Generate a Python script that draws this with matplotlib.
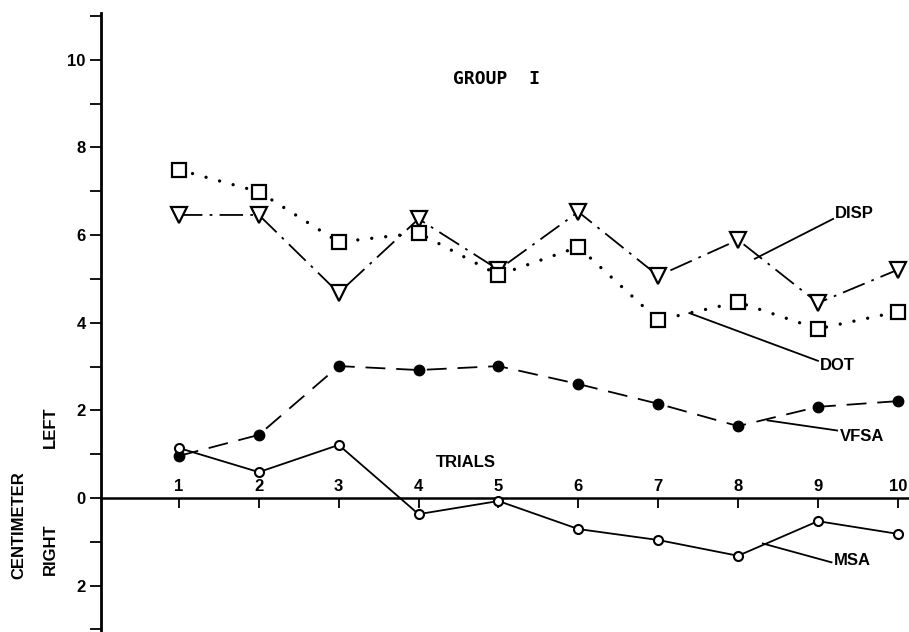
import numpy as np
import matplotlib
matplotlib.use("Agg")
import matplotlib.pyplot as plt
from matplotlib.ticker import FixedLocator, FuncFormatter

plt.rcParams["font.family"] = ["Liberation Sans", "DejaVu Sans"]
plt.rcParams["font.weight"] = "bold"

# Group I: mean displacement (cm) per trial, positive = left, negative = right
trials = np.arange(1, 11)
dot = [7.49, 6.99, 5.84, 6.05, 5.09, 5.73, 4.06, 4.47, 3.86, 4.25]
disp = [6.46, 6.46, 4.68, 6.37, 5.21, 6.53, 5.07, 5.89, 4.45, 5.21]
vfsa = [0.96, 1.44, 3.01, 2.92, 3.01, 2.60, 2.15, 1.64, 2.08, 2.21]
msa = [1.14, 0.59, 1.21, -0.37, -0.07, -0.71, -0.96, -1.32, -0.53, -0.82]

# label text, leader line start/end, text anchor (data coords)
callouts = [
    ("DISP", (8.21, 5.46), (9.19, 6.37), (9.21, 6.50)),
    ("DOT", (7.39, 4.22), (9.00, 3.13), (9.02, 3.02)),
    ("VFSA", (8.37, 1.77), (9.24, 1.54), (9.28, 1.40)),
    ("MSA", (8.31, -1.04), (9.17, -1.47), (9.20, -1.42)),
]

fig = plt.figure(figsize=(9.09, 6.32), dpi=100)
ax = fig.add_axes([101 / 909, 0, 1 - 101 / 909, 1 - 13 / 632])
ax.set_xlim(0.024, 10.14)
ax.set_ylim(-3.06, 11.07)

lw = 1.3
ax.plot(trials, dot, color="black", lw=2.4, linestyle=(0, (0.01, 4.2)),
        dash_capstyle="round", zorder=2)
ax.plot(trials, dot, linestyle="none", marker="s", ms=10, mfc="white",
        mec="black", mew=1.6, zorder=4)
ax.plot(trials, disp, color="black", lw=lw, linestyle=(0, (13, 4, 1.5, 4)),
        marker="v", ms=11.5, mfc="white", mec="black", mew=1.6, zorder=3)
ax.plot(trials, vfsa, color="black", lw=lw, linestyle=(0, (11, 6)),
        marker="o", ms=7.5, mfc="black", mec="black", zorder=3)
ax.plot(trials, msa, color="black", lw=lw, linestyle="-",
        marker="o", ms=6.5, mfc="white", mec="black", mew=1.5, zorder=3)

for name, p0, p1, tp in callouts:
    ax.plot([p0[0], p1[0]], [p0[1], p1[1]], color="black", lw=1.3, zorder=2)
    ax.text(tp[0], tp[1], name, fontsize=12, fontweight="bold",
            ha="left", va="center")

ax.text(4.97, 9.57, "GROUP  I", fontsize=13, ha="center", va="center",
        family=["DejaVu Sans Mono", "DejaVu Sans"])
ax.text(4.59, 0.82, "TRIALS", fontsize=12, fontweight="bold",
        ha="center", va="center")

# x axis sits on the zero line with labels above it
for s in ["right", "bottom"]:
    ax.spines[s].set_visible(False)
ax.spines["top"].set_position(("data", 0))
ax.spines["top"].set_linewidth(1.8)
ax.spines["left"].set_linewidth(2.0)
ax.xaxis.set_ticks_position("top")
ax.set_xticks(trials)
ax.set_xticklabels([str(t) for t in trials])
ax.tick_params(axis="x", direction="in", length=7, width=1.3, pad=3,
               labelsize=12)

yticks = list(range(-3, 12))
ax.yaxis.set_major_locator(FixedLocator(yticks))
ax.yaxis.set_major_formatter(
    FuncFormatter(lambda v, p: str(abs(int(round(v)))) if int(round(v)) % 2 == 0 and v < 11 else ""))
ax.tick_params(axis="y", direction="out", length=8, width=1.3, pad=3,
               labelsize=12)

fig.text(19 / 909, 1 - 525 / 632, "CENTIMETER", rotation=90, fontsize=12,
         fontweight="bold", ha="center", va="center")
fig.text(50 / 909, 1 - 427 / 632, "LEFT", rotation=90, fontsize=12,
         fontweight="bold", ha="center", va="center")
fig.text(50 / 909, 1 - 549 / 632, "RIGHT", rotation=90, fontsize=12,
         fontweight="bold", ha="center", va="center")

fig.savefig("out.png", dpi=100)
